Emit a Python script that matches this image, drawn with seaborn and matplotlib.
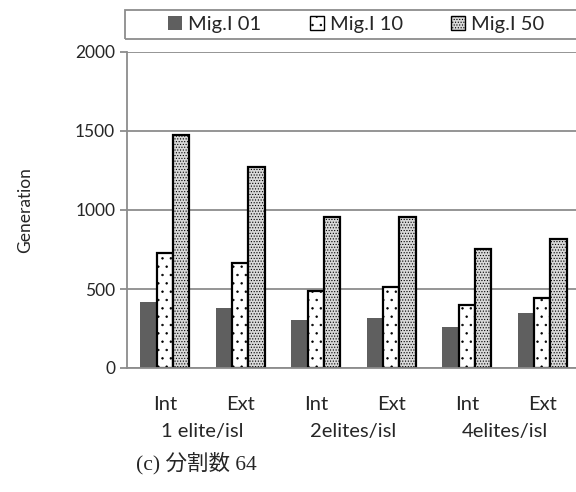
import seaborn as sns
import matplotlib.pyplot as plt
import pandas as pd
from matplotlib.patches import Rectangle

sns.set_style("white")
plt.rcParams['font.family'] = ['Lato', 'DejaVu Sans']
plt.rcParams['hatch.linewidth'] = 0.5

categories = ['1 elite Int', '1 elite Ext', '2elites Int', '2elites Ext', '4elites Int', '4elites Ext']
tick_labels = ['Int', 'Ext', 'Int', 'Ext', 'Int', 'Ext']
group_labels = ['1 elite/isl', '2elites/isl', '4elites/isl']
series = ['Mig.I 01', 'Mig.I 10', 'Mig.I 50']
mig01 = [415, 378, 302, 314, 262, 348]
mig10 = [728, 665, 489, 511, 396, 446]
mig50 = [1473, 1270, 954, 954, 750, 815]

df = pd.DataFrame({
    'cat': categories * 3,
    'series': [s for s in series for _ in categories],
    'value': mig01 + mig10 + mig50,
})

fig = plt.figure(figsize=(5.76, 4.92), dpi=100)
ax = fig.add_axes([127 / 576, 1 - 368 / 492, 453 / 576, 316 / 492])

sns.barplot(data=df, x='cat', y='value', hue='series', order=categories,
            hue_order=series, palette=['#5f5f5f', 'white', '#d9d9d9'],
            width=0.65, ax=ax, legend=True)

hatches = ['', '..', '......']
for cont, h in zip(ax.containers, hatches):
    for p in cont:
        p.set_hatch(h)
        if h:
            p.set_edgecolor('black')
            p.set_linewidth(1.6)
        else:
            p.set_edgecolor('none')
            p.set_linewidth(0)

ax.set_ylim(0, 2000)
ax.set_yticks([0, 500, 1000, 1500, 2000])
ax.set_xlim(-0.5, 5.5)
ax.yaxis.grid(True, color='#8c8c8c', linewidth=1.3)
ax.set_axisbelow(True)
for s in ['top', 'right']:
    ax.spines[s].set_visible(False)
for s in ['left', 'bottom']:
    ax.spines[s].set_color('#8c8c8c')
    ax.spines[s].set_linewidth(1.3)

ax.set_xticks(range(6))
ax.set_xticklabels(tick_labels, fontsize=14.5)
ax.tick_params(axis='x', which='major', length=0, pad=20)
ax.set_xticks([i - 0.5 for i in range(7)], minor=True)
ax.tick_params(axis='x', which='minor', length=7, color='#8c8c8c', width=1.3)
ax.tick_params(axis='y', length=5, color='#8c8c8c', width=1.3, labelsize=12.5, left=True)

for i, g in enumerate(group_labels):
    ax.text(2 * i + 0.5, -0.2, g, transform=ax.get_xaxis_transform(),
            ha='center', va='center', fontsize=14.5)

ax.set_xlabel('')
ax.set_ylabel('Generation', fontsize=12.5, labelpad=30)

fig.text(196 / 576, 1 - 463 / 492, '(c) 分割数 64', ha='center', va='center',
         fontsize=15.5, family=['Liberation Serif', 'Noto Sans CJK JP'])

# legend frame (open to the right edge, like the source)
fig.patches.append(Rectangle((125 / 576, 1 - 39 / 492), 460 / 576, 29 / 492,
                             transform=fig.transFigure, fill=False,
                             edgecolor='#8c8c8c', linewidth=1.3))

handles, labels = ax.get_legend_handles_labels()
ax.legend_.remove()
leg = fig.legend(handles, labels, loc='center left', bbox_to_anchor=(168 / 576, 1 - 24.5 / 492),
                 ncol=3, frameon=False, fontsize=14.5, handlelength=0.7, handleheight=0.7,
                 columnspacing=2.4, handletextpad=0.3, borderpad=0.0, borderaxespad=0.0)
for h, hh in zip(leg.legend_handles, hatches):
    h.set_hatch(hh)
    h.set_edgecolor('black' if hh else 'none')
    h.set_linewidth(1.0)

fig.savefig('out.png', dpi=100)
